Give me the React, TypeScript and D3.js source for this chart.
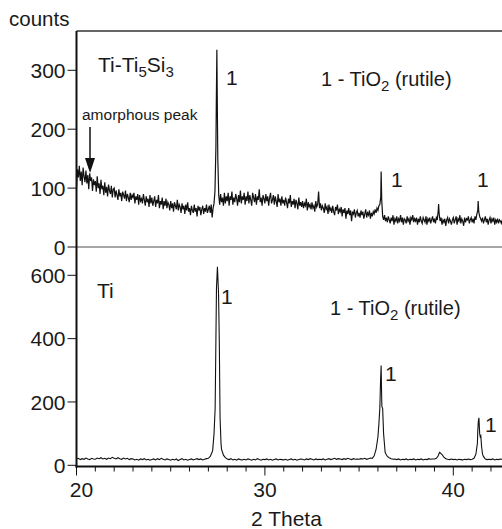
import React from "react";
import * as d3 from "d3";

// ---------- DATA ----------
const xStart = 20;
const topStep = 0.05;
const botStep = 0.1;

// Ti-Ti5Si3 (upper pattern), counts on a 0.05° grid from 20.0 to 42.6
const topCounts = [
  100, 132, 118, 138, 112, 128, 105, 135, 120, 110,
  130, 108, 122, 98, 125, 112, 118, 95, 115, 105,
  112, 94, 120, 100, 108, 90, 114, 98, 104, 88,
  110, 92, 102, 86, 106, 96, 90, 104, 84, 98,
  100, 84, 96, 88, 80, 98, 86, 92, 78, 94,
  88, 82, 96, 78, 90, 84, 76, 92, 80, 88,
  84, 92, 74, 86, 80, 90, 72, 88, 78, 82,
  74, 90, 80, 70, 86, 76, 82, 68, 88, 74,
  84, 70, 78, 86, 68, 80, 74, 88, 66, 78,
  72, 84, 64, 78, 70, 82, 66, 76, 72, 62,
  78, 66, 74, 60, 76, 70, 64, 80, 62, 72,
  68, 58, 74, 64, 70, 56, 72, 62, 76, 60,
  66, 54, 70, 62, 58, 72, 60, 66, 52, 70,
  62, 68, 54, 64, 70, 56, 66, 60, 72, 58,
  64, 70, 58, 72, 50, 66, 74, 95, 170, 335,
  150, 88, 72, 90, 76, 84, 70, 92, 74, 86,
  78, 92, 70, 86, 80, 94, 72, 84, 76, 90,
  82, 70, 88, 76, 96, 74, 86, 80, 92, 72,
  86, 78, 94, 74, 88, 80, 70, 92, 84, 76,
  90, 72, 86, 80, 98, 76, 84, 70, 88, 82,
  74, 90, 78, 86, 70, 84, 92, 74, 80, 88,
  72, 86, 78, 68, 90, 76, 82, 70, 86, 74,
  80, 70, 84, 76, 66, 82, 74, 88, 68, 78,
  72, 82, 66, 80, 74, 64, 84, 70, 76, 68,
  78, 66, 74, 70, 82, 62, 76, 68, 72, 64,
  76, 66, 70, 60, 78, 68, 72, 94, 66, 74,
  62, 70, 66, 58, 74, 64, 68, 56, 72, 62,
  66, 58, 70, 60, 54, 68, 62, 72, 56, 64,
  60, 68, 52, 64, 58, 66, 48, 62, 56, 66,
  54, 62, 44, 60, 56, 64, 50, 58, 62, 52,
  58, 50, 62, 54, 60, 48, 56, 64, 50, 58,
  54, 62, 48, 58, 52, 60, 56, 64, 58, 66,
  62, 70, 72, 85, 80, 52, 46, 54, 44, 50,
  42, 52, 46, 40, 50, 44, 54, 38, 48, 44,
  52, 40, 48, 44, 54, 42, 50, 38, 48, 46,
  40, 52, 44, 48, 38, 50, 46, 54, 42, 48,
  44, 50, 38, 48, 42, 52, 44, 40, 50, 46,
  42, 52, 38, 48, 44, 50, 40, 46, 52, 42,
  48, 40, 50, 46, 62, 56, 44, 50, 38, 46,
  42, 48, 36, 46, 50, 40, 48, 44, 38, 46,
  50, 40, 46, 52, 38, 48, 44, 54, 40, 48,
  44, 36, 50, 42, 48, 46, 52, 40, 46, 50,
  42, 48, 40, 52, 46, 56, 62, 60, 52, 48,
  44, 50, 40, 46, 52, 42, 48, 38, 46, 50,
  40, 48, 44, 50, 38, 46, 42, 48, 40, 46,
  44, 40, 46,
];
// extra measured points resolving the narrow reflections
const topPeakPoints: [number, number][] = [
  [27.42, 240], [27.48, 220],
  [36.17, 128],
  [39.22, 73],
  [41.32, 78],
];

// Ti (lower pattern), 0.1° grid
const botCounts = [
  20, 22, 18, 21, 19, 23, 20, 18, 22, 20,
  19, 23, 21, 24, 20, 22, 19, 23, 21, 25,
  22, 20, 24, 21, 19, 23, 20, 22, 18, 21,
  20, 17, 19, 16, 20, 18, 21, 17, 19, 16,
  18, 20, 17, 21, 18, 22, 19, 17, 20, 18,
  16, 19, 17, 20, 15, 18, 21, 17, 19, 16,
  18, 20, 17, 19, 21, 18, 20, 17, 19, 21,
  22, 28, 42, 100, 400, 600, 270, 50, 32, 24,
  20, 18, 21, 17, 19, 16, 20, 18, 17, 19,
  17, 20, 18, 16, 19, 17, 21, 18, 16, 19,
  18, 20, 17, 19, 16, 18, 20, 17, 19, 18,
  17, 19, 16, 18, 20, 17, 19, 16, 18, 20,
  19, 17, 20, 18, 21, 19, 17, 20, 18, 19,
  18, 20, 17, 19, 21, 18, 20, 22, 19, 21,
  20, 18, 21, 19, 22, 20, 18, 21, 19, 20,
  19, 21, 20, 22, 19, 21, 23, 22, 30, 50,
  90, 180, 210, 100, 38, 28, 24, 21, 19, 20,
  18, 20, 17, 19, 18, 20, 17, 19, 18, 20,
  17, 19, 18, 20, 17, 19, 18, 21, 19, 20,
  20, 22, 30, 40, 34, 26, 21, 19, 18, 20,
  18, 19, 17, 19, 18, 17, 19, 18, 20, 18,
  19, 22, 35, 110, 100, 60, 28, 20, 18, 19,
  18, 20, 17, 19, 18, 20, 19,
];
const botPeakPoints: [number, number][] = [
  [27.23, 48], [27.36, 181], [27.43, 560], [27.48, 627], [27.54, 540], [27.58, 390], [27.62, 150], [27.67, 70],
  [36.05, 130], [36.11, 200], [36.14, 270], [36.17, 315], [36.19, 240], [36.21, 185], [36.25, 180], [36.3, 100], [36.38, 42],
  [39.27, 41],
  [41.28, 70], [41.33, 140], [41.36, 150], [41.4, 100], [41.43, 90], [41.46, 93], [41.55, 35],
];

const topTicks = [0, 100, 200, 300];
const botTicks = [0, 200, 400, 600];
const xMajorTicks = [20, 30, 40];
const xMinorTicks = d3.range(20, 43, 1);

// ---------- LAYOUT ----------
const W = 502;
const H = 529;
const left = 76.5;
const right = 502;
const topY0 = 31;
const sepY = 247;
const axisY = 466.5;
const font = "'Liberation Sans', Arial, Helvetica, sans-serif";

function buildSeries(grid: number[], step: number, extra: [number, number][]) {
  const pts: [number, number][] = grid.map((v, i) => [+(xStart + i * step).toFixed(3), v]);
  return pts.concat(extra).sort((a, b) => a[0] - b[0]);
}

export default function App() {
  const x = d3.scaleLinear().domain([20, 40]).range([left, 453.3]);
  const yTop = d3.scaleLinear().domain([0, 300]).range([sepY, 70.3]);
  const yBot = d3.scaleLinear().domain([0, 600]).range([465.3, 275.3]);

  const topData = buildSeries(topCounts, topStep, topPeakPoints);
  const botData = buildSeries(botCounts, botStep, botPeakPoints);

  const lineTop = d3.line<[number, number]>().x((d) => x(d[0])).y((d) => yTop(d[1]));
  const lineBot = d3.line<[number, number]>().x((d) => x(d[0])).y((d) => yBot(d[1]));

  const txt = { fontFamily: font, fill: "#1a1a1a" } as const;

  return (
    <svg width={W} height={H} style={{ position: "absolute", left: 0, top: 0, background: "#fff" }}>
      <defs>
        <clipPath id="clipTop">
          <rect x={left} y={topY0} width={right - left} height={sepY - topY0} />
        </clipPath>
        <clipPath id="clipBot">
          <rect x={left} y={sepY} width={right - left} height={axisY - sepY} />
        </clipPath>
      </defs>

      {/* frame lines */}
      <line x1={left} x2={right} y1={topY0} y2={topY0} stroke="#333" strokeWidth={1.5} />
      <line x1={left} x2={right} y1={sepY} y2={sepY} stroke="#888" strokeWidth={1.5} />

      {/* traces */}
      <path d={lineTop(topData) || ""} fill="none" stroke="#111" strokeWidth={1.2} clipPath="url(#clipTop)" />
      <path d={lineBot(botData) || ""} fill="none" stroke="#111" strokeWidth={1.1} clipPath="url(#clipBot)" />

      {/* y axis */}
      <line x1={left} x2={left} y1={topY0} y2={axisY + 1} stroke="#111" strokeWidth={2} />
      {topTicks.map((t) => (
        <g key={"tt" + t}>
          <line x1={left - 9} x2={left} y1={yTop(t)} y2={yTop(t)} stroke="#111" strokeWidth={1} />
          <text x={left - 11} y={yTop(t)} dy="0.36em" textAnchor="end" fontSize={21} style={txt}>
            {t}
          </text>
        </g>
      ))}
      {botTicks.map((t) => (
        <g key={"bt" + t}>
          <line x1={left - 9} x2={left} y1={yBot(t)} y2={yBot(t)} stroke="#111" strokeWidth={1} />
          <text x={left - 11} y={yBot(t)} dy="0.36em" textAnchor="end" fontSize={21} style={txt}>
            {t}
          </text>
        </g>
      ))}

      {/* x axis */}
      <line x1={left - 1} x2={right} y1={axisY} y2={axisY} stroke="#111" strokeWidth={2.2} />
      {xMinorTicks.map((t) => (
        <line key={"mx" + t} x1={x(t)} x2={x(t)} y1={axisY} y2={axisY + (xMajorTicks.includes(t) ? 9 : 5)} stroke="#111" strokeWidth={1} />
      ))}
      {xMajorTicks.map((t) => (
        <text key={"xl" + t} x={x(t) + (t === 20 ? 5 : 0)} y={497} textAnchor="middle" fontSize={21} style={txt}>
          {t}
        </text>
      ))}

      {/* axis titles */}
      <text x={9} y={26} fontSize={20.5} style={txt}>counts</text>
      <text x={251} y={526} fontSize={21} style={txt}>2 Theta</text>

      {/* upper panel labels */}
      <text x={98} y={72} fontSize={21} style={txt}>
        Ti-Ti<tspan fontSize={15} dy={5}>5</tspan><tspan dy={-5}>Si</tspan><tspan fontSize={15} dy={5}>3</tspan>
      </text>
      <text x={226} y={85} fontSize={21} style={txt}>1</text>
      <text x={321} y={86} fontSize={20} style={txt}>
        1 - TiO<tspan fontSize={15} dy={5}>2</tspan><tspan dy={-5}> (rutile)</tspan>
      </text>
      <text x={391} y={187} fontSize={21} style={txt}>1</text>
      <text x={477} y={187} fontSize={21} style={txt}>1</text>
      <text x={82} y={120} fontSize={15.5} style={txt}>amorphous peak</text>
      <line x1={90} x2={90} y1={127} y2={160} stroke="#111" strokeWidth={1.5} />
      <path d="M85,158 L95,158 L90,173 Z" fill="#111" />

      {/* lower panel labels */}
      <text x={97} y={298} fontSize={21} style={txt}>Ti</text>
      <text x={221} y={304} fontSize={21} style={txt}>1</text>
      <text x={330} y={315} fontSize={20} style={txt}>
        1 - TiO<tspan fontSize={15} dy={5}>2</tspan><tspan dy={-5}> (rutile)</tspan>
      </text>
      <text x={385} y={381} fontSize={21} style={txt}>1</text>
      <text x={485} y={432} fontSize={21} style={txt}>1</text>
    </svg>
  );
}
